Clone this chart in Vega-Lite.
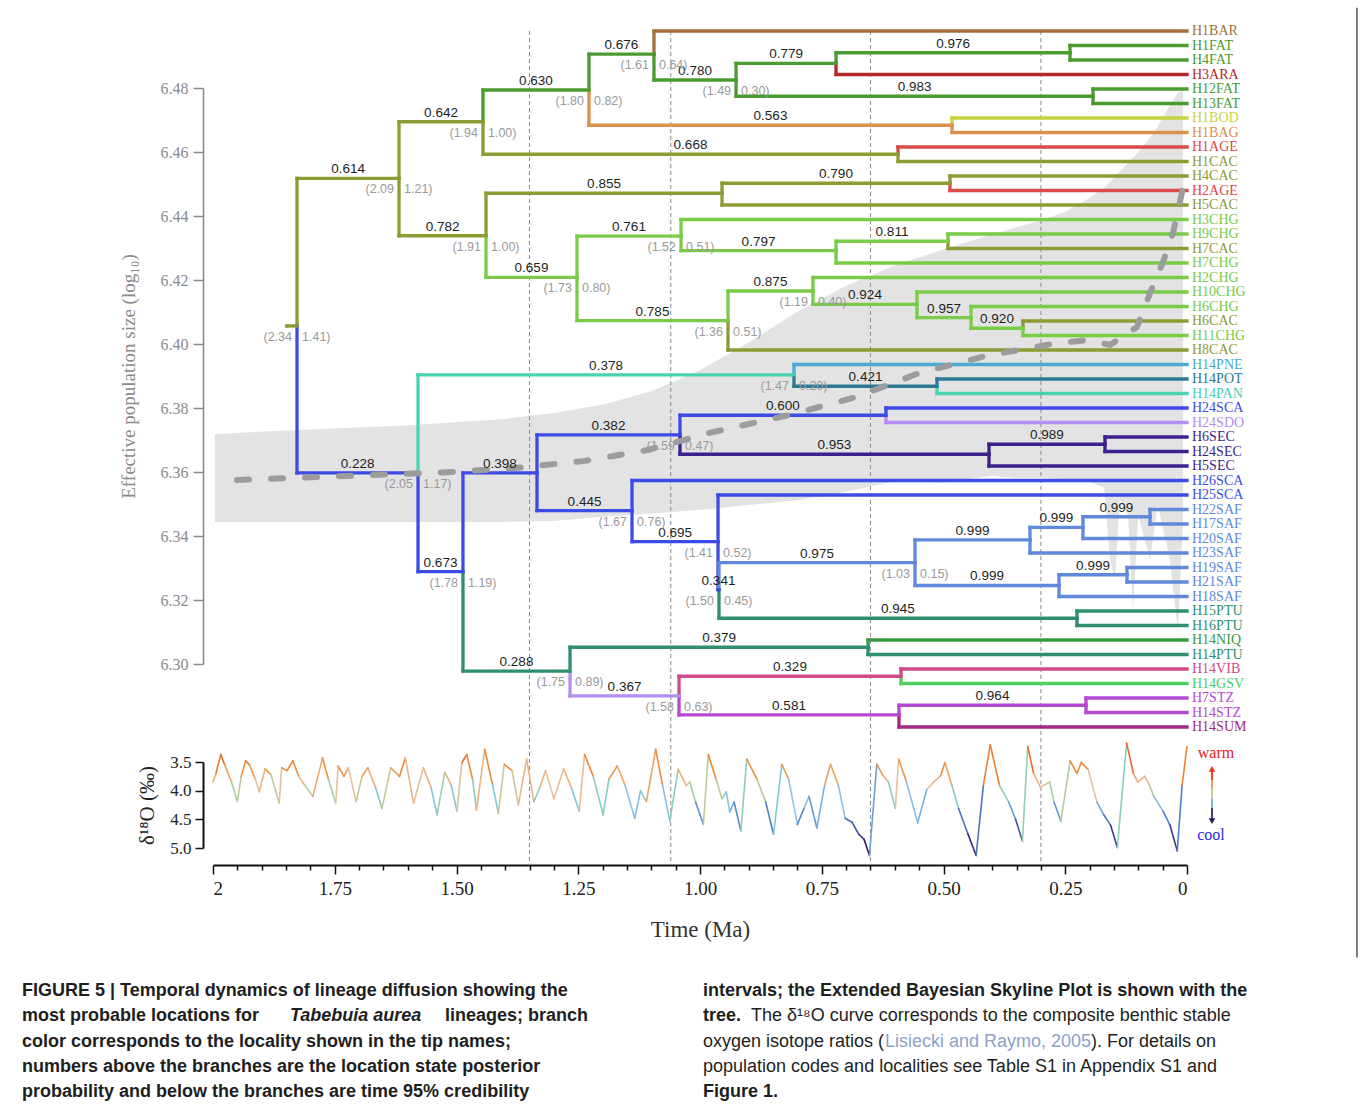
{
"$schema":"https://vega.github.io/schema/vega-lite/v6.json",
"width":1362,"height":1105,"autosize":{"type":"none"},"padding":0,"background":"white",
"config":{"view":{"stroke":null},"axis":{"grid":false}},
"datasets":{
"sky":[
{"t":1.996,"hi":6.3719,"lo":6.3444},{"t":1.8,"hi":6.3733,"lo":6.3444},{"t":1.6,"hi":6.3746,"lo":6.3444},{"t":1.4,"hi":6.3766,"lo":6.3444},{"t":1.3,"hi":6.3784,"lo":6.3447},{"t":1.2,"hi":6.381,"lo":6.346},{"t":1.1,"hi":6.3852,"lo":6.347},{"t":1.0,"hi":6.3918,"lo":6.3481},{"t":0.9,"hi":6.4005,"lo":6.3497},{"t":0.8,"hi":6.4101,"lo":6.3512},{"t":0.7,"hi":6.4182,"lo":6.3538},{"t":0.6,"hi":6.4245,"lo":6.3571},{"t":0.5,"hi":6.4296,"lo":6.3567},{"t":0.4,"hi":6.4343,"lo":6.3588},{"t":0.35,"hi":6.4365,"lo":6.3581},{"t":0.3,"hi":6.4386,"lo":6.3581},{"t":0.25,"hi":6.4413,"lo":6.3577},{"t":0.2,"hi":6.4456,"lo":6.3569},{"t":0.17,"hi":6.4488,"lo":6.3551},{"t":0.158,"hi":6.4507,"lo":6.3325},{"t":0.148,"hi":6.4523,"lo":6.3263},{"t":0.138,"hi":6.4539,"lo":6.3513},{"t":0.121,"hi":6.4566,"lo":6.3466},{"t":0.111,"hi":6.4582,"lo":6.3169},{"t":0.1,"hi":6.46,"lo":6.3466},{"t":0.076,"hi":6.4644,"lo":6.3325},{"t":0.06,"hi":6.468,"lo":6.3497},{"t":0.035,"hi":6.4745,"lo":6.3325},{"t":0.0185,"hi":6.4786,"lo":6.31},{"t":0.012,"hi":6.479,"lo":6.3325},{"t":0.008,"hi":6.4794,"lo":6.345}],
"median":[
{"t":1.9507,"m":6.3575},{"t":1.7187,"m":6.3588},{"t":1.5072,"m":6.36},{"t":1.3758,"m":6.3613},{"t":1.2402,"m":6.3634},{"t":1.1068,"m":6.3669},{"t":0.9815,"m":6.3722},{"t":0.8172,"m":6.3778},{"t":0.6797,"m":6.3834},{"t":0.5503,"m":6.3909},{"t":0.4127,"m":6.3963},{"t":0.2772,"m":6.4},{"t":0.2012,"m":6.4013},{"t":0.1581,"m":6.3997},{"t":0.1027,"m":6.4053},{"t":0.076,"m":6.4159},{"t":0.0493,"m":6.4256},{"t":0.0287,"m":6.4347},{"t":0.0082,"m":6.4488}],
"vlines":[{"t":1.35},{"t":1.06},{"t":0.65},{"t":0.30}],
"br":[
{"id":"root","pt":1.848,"pu":20.34,"t":1.8275,"u":20.34,"loc":"CAC"},
{"id":"A","pt":1.8275,"pu":20.34,"t":1.618,"u":10.16,"loc":"CAC","post":"0.614"},
{"id":"B","pt":1.8275,"pu":20.34,"t":1.579,"u":30.48,"loc":"SCA","post":"0.228"},
{"id":"A1","pt":1.618,"pu":10.16,"t":1.4456,"u":6.26,"loc":"CAC","post":"0.642"},
{"id":"A2","pt":1.618,"pu":10.16,"t":1.4394,"u":14.12,"loc":"CAC","post":"0.782"},
{"id":"A1a","pt":1.4456,"pu":6.26,"t":1.228,"u":4.07,"loc":"FAT","post":"0.630"},
{"id":"N668","pt":1.4456,"pu":6.26,"t":0.5934,"u":8.5,"loc":"CAC","post":"0.668"},
{"id":"A1a1","pt":1.228,"pu":4.07,"t":1.0945,"u":1.6,"loc":"FAT","post":"0.676"},
{"id":"N563","pt":1.228,"pu":4.07,"t":0.4825,"u":6.5,"loc":"BAG","post":"0.563"},
{"id":"H1BAR","pt":1.0945,"pu":1.6,"t":0,"u":0,"loc":"BAR"},
{"id":"A1a1b","pt":1.0945,"pu":1.6,"t":0.926,"u":3.38,"loc":"FAT","post":"0.780"},
{"id":"N779","pt":0.926,"pu":3.38,"t":0.7207,"u":2.23,"loc":"FAT","post":"0.779"},
{"id":"N983","pt":0.926,"pu":3.38,"t":0.193,"u":4.5,"loc":"FAT","post":"0.983"},
{"id":"N976","pt":0.7207,"pu":2.23,"t":0.2402,"u":1.5,"loc":"FAT","post":"0.976"},
{"id":"H3ARA","pt":0.7207,"pu":2.23,"t":0,"u":3,"loc":"ARA"},
{"id":"H1FAT","pt":0.2402,"pu":1.5,"t":0,"u":1,"loc":"FAT"},
{"id":"H4FAT","pt":0.2402,"pu":1.5,"t":0,"u":2,"loc":"FAT"},
{"id":"H12FAT","pt":0.193,"pu":4.5,"t":0,"u":4,"loc":"FAT"},
{"id":"H13FAT","pt":0.193,"pu":4.5,"t":0,"u":5,"loc":"FAT"},
{"id":"H1BOD","pt":0.4825,"pu":6.5,"t":0,"u":6,"loc":"BOD"},
{"id":"H1BAG","pt":0.4825,"pu":6.5,"t":0,"u":7,"loc":"BAG"},
{"id":"H1AGE","pt":0.5934,"pu":8.5,"t":0,"u":8,"loc":"AGE"},
{"id":"H1CAC","pt":0.5934,"pu":8.5,"t":0,"u":9,"loc":"CAC"},
{"id":"N855","pt":1.4394,"pu":14.12,"t":0.9548,"u":11.19,"loc":"CAC","post":"0.855"},
{"id":"N659","pt":1.4394,"pu":14.12,"t":1.2526,"u":16.99,"loc":"CHG","post":"0.659"},
{"id":"N790","pt":0.9548,"pu":11.19,"t":0.4867,"u":10.5,"loc":"CAC","post":"0.790"},
{"id":"H5CAC","pt":0.9548,"pu":11.19,"t":0,"u":12,"loc":"CAC"},
{"id":"H4CAC","pt":0.4867,"pu":10.5,"t":0,"u":10,"loc":"CAC"},
{"id":"H2AGE","pt":0.4867,"pu":10.5,"t":0,"u":11,"loc":"AGE"},
{"id":"N761","pt":1.2526,"pu":16.99,"t":1.039,"u":14.14,"loc":"CHG","post":"0.761"},
{"id":"N785","pt":1.2526,"pu":16.99,"t":0.9425,"u":19.97,"loc":"CHG","post":"0.785"},
{"id":"H3CHG","pt":1.039,"pu":14.14,"t":0,"u":13,"loc":"CHG"},
{"id":"N797","pt":1.039,"pu":14.14,"t":0.7207,"u":15.15,"loc":"CHG","post":"0.797"},
{"id":"N811","pt":0.7207,"pu":15.15,"t":0.4908,"u":14.5,"loc":"CHG","post":"0.811"},
{"id":"H7CHG","pt":0.7207,"pu":15.15,"t":0,"u":16,"loc":"CHG"},
{"id":"H9CHG","pt":0.4908,"pu":14.5,"t":0,"u":14,"loc":"CHG"},
{"id":"H7CAC","pt":0.4908,"pu":14.5,"t":0,"u":15,"loc":"CAC"},
{"id":"N875","pt":0.9425,"pu":19.97,"t":0.768,"u":17.93,"loc":"CHG","post":"0.875"},
{"id":"H8CAC","pt":0.9425,"pu":19.97,"t":0,"u":22,"loc":"CAC"},
{"id":"H2CHG","pt":0.768,"pu":17.93,"t":0,"u":17,"loc":"CHG"},
{"id":"N924","pt":0.768,"pu":17.93,"t":0.5544,"u":18.85,"loc":"CHG","post":"0.924"},
{"id":"H10CHG","pt":0.5544,"pu":18.85,"t":0,"u":18,"loc":"CHG"},
{"id":"N957","pt":0.5544,"pu":18.85,"t":0.4435,"u":19.77,"loc":"CHG","post":"0.957"},
{"id":"H6CHG","pt":0.4435,"pu":19.77,"t":0,"u":19,"loc":"CHG"},
{"id":"N920","pt":0.4435,"pu":19.77,"t":0.3368,"u":20.5,"loc":"CHG","post":"0.920"},
{"id":"H6CAC","pt":0.3368,"pu":20.5,"t":0,"u":20,"loc":"CAC"},
{"id":"H11CHG","pt":0.3368,"pu":20.5,"t":0,"u":21,"loc":"CHG"},
{"id":"N378","pt":1.579,"pu":30.48,"t":0.807,"u":23.72,"loc":"PAN","post":"0.378"},
{"id":"N673","pt":1.579,"pu":30.48,"t":1.4867,"u":37.29,"loc":"SCA","post":"0.673"},
{"id":"H14PNE","pt":0.807,"pu":23.72,"t":0,"u":23,"loc":"PNE"},
{"id":"N421","pt":0.807,"pu":23.72,"t":0.5133,"u":24.5,"loc":"POT","post":"0.421"},
{"id":"H14POT","pt":0.5133,"pu":24.5,"t":0,"u":24,"loc":"POT"},
{"id":"H14PAN","pt":0.5133,"pu":24.5,"t":0,"u":25,"loc":"PAN"},
{"id":"N398","pt":1.4867,"pu":37.29,"t":1.3347,"u":30.48,"loc":"SCA","post":"0.398"},
{"id":"N288","pt":1.4867,"pu":37.29,"t":1.2669,"u":44.14,"loc":"PTU","post":"0.288"},
{"id":"N382","pt":1.3347,"pu":30.48,"t":1.0411,"u":27.86,"loc":"SCA","post":"0.382"},
{"id":"N445","pt":1.3347,"pu":30.48,"t":1.1396,"u":33.08,"loc":"SCA","post":"0.445"},
{"id":"N600","pt":1.0411,"pu":27.86,"t":0.6181,"u":26.5,"loc":"SCA","post":"0.600"},
{"id":"N953","pt":1.0411,"pu":27.86,"t":0.4066,"u":29.19,"loc":"SEC","post":"0.953"},
{"id":"H24SCA","pt":0.6181,"pu":26.5,"t":0,"u":26,"loc":"SCA"},
{"id":"H24SDO","pt":0.6181,"pu":26.5,"t":0,"u":27,"loc":"SDO"},
{"id":"N989","pt":0.4066,"pu":29.19,"t":0.1684,"u":28.5,"loc":"SEC","post":"0.989"},
{"id":"H5SEC","pt":0.4066,"pu":29.19,"t":0,"u":30,"loc":"SEC"},
{"id":"H6SEC","pt":0.1684,"pu":28.5,"t":0,"u":28,"loc":"SEC"},
{"id":"H24SEC","pt":0.1684,"pu":28.5,"t":0,"u":29,"loc":"SEC"},
{"id":"H26SCA","pt":1.1396,"pu":33.08,"t":0,"u":31,"loc":"SCA"},
{"id":"N695","pt":1.1396,"pu":33.08,"t":0.963,"u":35.22,"loc":"SCA","post":"0.695"},
{"id":"H25SCA","pt":0.963,"pu":35.22,"t":0,"u":32,"loc":"SCA"},
{"id":"N341","pt":0.963,"pu":35.22,"t":0.961,"u":38.53,"loc":"SCA","post":"0.341"},
{"id":"N975","pt":0.961,"pu":38.53,"t":0.5585,"u":36.67,"loc":"SAF","post":"0.975"},
{"id":"N945","pt":0.961,"pu":38.53,"t":0.2259,"u":40.5,"loc":"PTU","post":"0.945"},
{"id":"N999a","pt":0.5585,"pu":36.67,"t":0.3224,"u":35.1,"loc":"SAF","post":"0.999"},
{"id":"N999d","pt":0.5585,"pu":36.67,"t":0.2628,"u":38.24,"loc":"SAF","post":"0.999"},
{"id":"N999b","pt":0.3224,"pu":35.1,"t":0.2136,"u":34.23,"loc":"SAF","post":"0.999"},
{"id":"H23SAF","pt":0.3224,"pu":35.1,"t":0,"u":36,"loc":"SAF"},
{"id":"N999c","pt":0.2136,"pu":34.23,"t":0.076,"u":33.5,"loc":"SAF","post":"0.999"},
{"id":"H20SAF","pt":0.2136,"pu":34.23,"t":0,"u":35,"loc":"SAF"},
{"id":"H22SAF","pt":0.076,"pu":33.5,"t":0,"u":33,"loc":"SAF"},
{"id":"H17SAF","pt":0.076,"pu":33.5,"t":0,"u":34,"loc":"SAF"},
{"id":"N999e","pt":0.2628,"pu":38.24,"t":0.1232,"u":37.5,"loc":"SAF","post":"0.999"},
{"id":"H18SAF","pt":0.2628,"pu":38.24,"t":0,"u":39,"loc":"SAF"},
{"id":"H19SAF","pt":0.1232,"pu":37.5,"t":0,"u":37,"loc":"SAF"},
{"id":"H21SAF","pt":0.1232,"pu":37.5,"t":0,"u":38,"loc":"SAF"},
{"id":"H15PTU","pt":0.2259,"pu":40.5,"t":0,"u":40,"loc":"PTU"},
{"id":"H16PTU","pt":0.2259,"pu":40.5,"t":0,"u":41,"loc":"PTU"},
{"id":"N379","pt":1.2669,"pu":44.14,"t":0.655,"u":42.5,"loc":"PTU","post":"0.379"},
{"id":"N367","pt":1.2669,"pu":44.14,"t":1.0431,"u":45.86,"loc":"SDO","post":"0.367"},
{"id":"H14NIQ","pt":0.655,"pu":42.5,"t":0,"u":42,"loc":"NIQ"},
{"id":"H14PTU","pt":0.655,"pu":42.5,"t":0,"u":43,"loc":"PTU"},
{"id":"N329","pt":1.0431,"pu":45.86,"t":0.5873,"u":44.5,"loc":"VIB","post":"0.329"},
{"id":"N581","pt":1.0431,"pu":45.86,"t":0.5914,"u":47.17,"loc":"STZ","post":"0.581"},
{"id":"H14VIB","pt":0.5873,"pu":44.5,"t":0,"u":44,"loc":"VIB"},
{"id":"H14GSV","pt":0.5873,"pu":44.5,"t":0,"u":45,"loc":"GSV"},
{"id":"N964","pt":0.5914,"pu":47.17,"t":0.2074,"u":46.5,"loc":"STZ","post":"0.964"},
{"id":"H14SUM","pt":0.5914,"pu":47.17,"t":0,"u":48,"loc":"SUM"},
{"id":"H7STZ","pt":0.2074,"pu":46.5,"t":0,"u":46,"loc":"STZ"},
{"id":"H14STZ","pt":0.2074,"pu":46.5,"t":0,"u":47,"loc":"STZ"}],
"hpd":[
{"t":1.8275,"u":20.34,"lo":"(2.34","hi":"1.41)"},
{"t":1.618,"u":10.16,"lo":"(2.09","hi":"1.21)"},
{"t":1.579,"u":30.48,"lo":"(2.05","hi":"1.17)"},
{"t":1.4456,"u":6.26,"lo":"(1.94","hi":"1.00)"},
{"t":1.4394,"u":14.12,"lo":"(1.91","hi":"1.00)"},
{"t":1.228,"u":4.07,"lo":"(1.80","hi":"0.82)"},
{"t":1.0945,"u":1.6,"lo":"(1.61","hi":"0.64)"},
{"t":0.926,"u":3.38,"lo":"(1.49","hi":"0.30)"},
{"t":1.2526,"u":16.99,"lo":"(1.73","hi":"0.80)"},
{"t":1.039,"u":14.14,"lo":"(1.52","hi":"0.51)"},
{"t":0.9425,"u":19.97,"lo":"(1.36","hi":"0.51)"},
{"t":0.768,"u":17.93,"lo":"(1.19","hi":"0.40)"},
{"t":0.807,"u":23.72,"lo":"(1.47","hi":"0.20)"},
{"t":1.4867,"u":37.29,"lo":"(1.78","hi":"1.19)"},
{"t":1.0411,"u":27.86,"lo":"(1.59","hi":"0.47)"},
{"t":1.1396,"u":33.08,"lo":"(1.67","hi":"0.76)"},
{"t":0.963,"u":35.22,"lo":"(1.41","hi":"0.52)"},
{"t":0.961,"u":38.53,"lo":"(1.50","hi":"0.45)"},
{"t":0.5585,"u":36.67,"lo":"(1.03","hi":"0.15)"},
{"t":1.2669,"u":44.14,"lo":"(1.75","hi":"0.89)"},
{"t":1.0431,"u":45.86,"lo":"(1.58","hi":"0.63)"}],
"d18o":[
{"t":2.0,"d":3.85},{"t":1.994,"d":3.7},{"t":1.984,"d":3.37},{"t":1.976,"d":3.55},{"t":1.962,"d":3.85},{"t":1.95,"d":4.19},{"t":1.942,"d":3.75},{"t":1.933,"d":3.48},{"t":1.925,"d":3.55},{"t":1.913,"d":3.8},{"t":1.905,"d":4.02},{"t":1.893,"d":3.62},{"t":1.881,"d":3.72},{"t":1.864,"d":4.22},{"t":1.859,"d":3.6},{"t":1.848,"d":3.65},{"t":1.836,"d":3.48},{"t":1.824,"d":3.75},{"t":1.812,"d":3.9},{"t":1.795,"d":4.1},{"t":1.775,"d":3.43},{"t":1.763,"d":3.8},{"t":1.748,"d":4.22},{"t":1.743,"d":3.57},{"t":1.731,"d":3.75},{"t":1.722,"d":3.6},{"t":1.706,"d":4.19},{"t":1.694,"d":3.75},{"t":1.682,"d":3.6},{"t":1.666,"d":3.95},{"t":1.653,"d":4.31},{"t":1.635,"d":3.6},{"t":1.617,"d":3.75},{"t":1.605,"d":3.43},{"t":1.588,"d":4.22},{"t":1.568,"d":3.6},{"t":1.552,"d":3.95},{"t":1.54,"d":4.42},{"t":1.524,"d":3.68},{"t":1.511,"d":3.9},{"t":1.499,"d":4.36},{"t":1.489,"d":3.51},{"t":1.479,"d":3.37},{"t":1.467,"d":3.8},{"t":1.459,"d":4.34},{"t":1.442,"d":3.28},{"t":1.426,"d":3.9},{"t":1.414,"d":4.39},{"t":1.402,"d":3.54},{"t":1.386,"d":3.65},{"t":1.373,"d":4.25},{"t":1.356,"d":3.45},{"t":1.341,"d":4.19},{"t":1.329,"d":3.95},{"t":1.317,"d":3.65},{"t":1.3,"d":4.14},{"t":1.28,"d":3.62},{"t":1.264,"d":3.95},{"t":1.248,"d":4.36},{"t":1.237,"d":3.37},{"t":1.219,"d":3.75},{"t":1.199,"d":4.42},{"t":1.187,"d":3.8},{"t":1.17,"d":3.57},{"t":1.154,"d":3.9},{"t":1.134,"d":4.48},{"t":1.122,"d":4.0},{"t":1.11,"d":4.19},{"t":1.091,"d":3.28},{"t":1.077,"d":3.9},{"t":1.062,"d":4.53},{"t":1.045,"d":3.63},{"t":1.028,"d":3.91},{"t":1.021,"d":3.85},{"t":1.009,"d":4.2},{"t":0.993,"d":4.59},{"t":0.983,"d":3.37},{"t":0.967,"d":3.8},{"t":0.955,"d":4.14},{"t":0.946,"d":4.02},{"t":0.939,"d":4.37},{"t":0.93,"d":4.2},{"t":0.916,"d":4.7},{"t":0.904,"d":3.45},{"t":0.883,"d":3.8},{"t":0.865,"d":4.2},{"t":0.849,"d":4.76},{"t":0.832,"d":3.54},{"t":0.818,"d":3.8},{"t":0.8,"d":4.59},{"t":0.786,"d":4.3},{"t":0.776,"d":4.1},{"t":0.76,"d":4.65},{"t":0.744,"d":3.9},{"t":0.732,"d":3.54},{"t":0.716,"d":3.9},{"t":0.702,"d":4.48},{"t":0.688,"d":4.55},{"t":0.674,"d":4.76},{"t":0.663,"d":4.85},{"t":0.652,"d":5.13},{"t":0.637,"d":3.54},{"t":0.623,"d":3.75},{"t":0.613,"d":3.85},{"t":0.599,"d":4.31},{"t":0.592,"d":3.45},{"t":0.576,"d":3.85},{"t":0.553,"d":4.56},{"t":0.534,"d":3.97},{"t":0.52,"d":3.85},{"t":0.506,"d":3.74},{"t":0.497,"d":3.51},{"t":0.483,"d":3.9},{"t":0.469,"d":4.31},{"t":0.45,"d":4.75},{"t":0.433,"d":5.13},{"t":0.418,"d":3.9},{"t":0.404,"d":3.2},{"t":0.385,"d":3.91},{"t":0.366,"d":4.2},{"t":0.352,"d":4.5},{"t":0.338,"d":4.88},{"t":0.327,"d":3.23},{"t":0.315,"d":3.7},{"t":0.301,"d":3.94},{"t":0.282,"d":3.85},{"t":0.273,"d":4.2},{"t":0.259,"d":4.53},{"t":0.24,"d":3.48},{"t":0.226,"d":3.7},{"t":0.217,"d":3.51},{"t":0.203,"d":3.63},{"t":0.185,"d":4.2},{"t":0.171,"d":4.42},{"t":0.157,"d":4.6},{"t":0.143,"d":4.99},{"t":0.124,"d":3.17},{"t":0.11,"d":3.7},{"t":0.101,"d":3.85},{"t":0.087,"d":3.75},{"t":0.077,"d":3.9},{"t":0.068,"d":4.1},{"t":0.049,"d":4.36},{"t":0.035,"d":4.6},{"t":0.02,"d":5.05},{"t":0.01,"d":3.9},{"t":0.0,"d":3.23}],
"arrow":[{"v":3.64,"v2":3.82,"c":3.3},{"v":3.82,"v2":3.98,"c":3.7},{"v":3.98,"v2":4.14,"c":3.95},{"v":4.14,"v2":4.3,"c":4.25},{"v":4.3,"v2":4.5,"c":4.8}],
"heads":[{"v":3.62,"dir":"up","c":3.25},{"v":4.53,"dir":"down","c":5.0}],
"wc":[{"label":"warm","t":-0.0595,"v":3.343},{"label":"cool","t":-0.0493,"v":4.774}],
"cap":[
{"col":0,"line":0,"seg":"b","text":"FIGURE 5 | Temporal dynamics of lineage diffusion showing the"},
{"col":0,"line":1,"seg":"b","text":"most probable locations for"},
{"col":0,"line":1,"seg":"it","text":"Tabebuia aurea"},
{"col":0,"line":1,"seg":"b2","text":"lineages; branch"},
{"col":0,"line":2,"seg":"b","text":"color corresponds to the locality shown in the tip names;"},
{"col":0,"line":3,"seg":"b","text":"numbers above the branches are the location state posterior"},
{"col":0,"line":4,"seg":"b","text":"probability and below the branches are time 95% credibility"},
{"col":1,"line":0,"seg":"b","text":"intervals; the Extended Bayesian Skyline Plot is shown with the"},
{"col":1,"line":1,"seg":"b","text":"tree."},
{"col":1,"line":1,"seg":"n2","text":"The δ¹⁸O curve corresponds to the composite benthic stable"},
{"col":1,"line":2,"seg":"n","text":"oxygen isotope ratios ("},
{"col":1,"line":2,"seg":"lk","text":"Lisiecki and Raymo, 2005"},
{"col":1,"line":2,"seg":"n3","text":"). For details on"},
{"col":1,"line":3,"seg":"n","text":"population codes and localities see Table S1 in Appendix S1 and"},
{"col":1,"line":4,"seg":"b","text":"Figure 1."}]
},
"resolve":{"scale":{"x":"independent","y":"independent","color":"independent","shape":"independent"},"axis":{"x":"independent","y":"independent"}},
"layer":[
{"data":{"name":"sky"},"mark":{"type":"area","color":"#e3e3e3"},
 "encoding":{"x":{"field":"t","type":"quantitative","scale":{"domain":[0,2],"range":[1187,213],"nice":false,"zero":false},"axis":null},
  "y":{"field":"hi","type":"quantitative","scale":{"domain":[6.3,6.48],"range":[664,88],"nice":false,"zero":false},
   "axis":{"orient":"left","offset":-203,"values":[6.3,6.32,6.34,6.36,6.38,6.4,6.42,6.44,6.46,6.48],"format":".2f","tickSize":10,"tickWidth":1.5,"tickColor":"#888","domainColor":"#888","domainWidth":1.5,"labelFont":"Liberation Serif","labelFontSize":16,"labelColor":"#8a8a8a","labelPadding":5,"title":"Effective population size (log₁₀)","titleFont":"Liberation Serif","titleFontSize":19,"titleFontWeight":"normal","titleColor":"#8a8a8a","titlePadding":22}},
  "y2":{"field":"lo"}}},
{"data":{"values":[{"edge":"right"}]},"mark":{"type":"rule","color":"#555","strokeWidth":1.5},
 "encoding":{"x":{"datum":-0.349,"type":"quantitative","scale":{"domain":[0,2],"range":[1187,213],"nice":false,"zero":false},"axis":null},
  "y":{"datum":-1.6,"type":"quantitative","scale":{"domain":[0,48],"range":[31,727],"nice":false,"zero":false},"axis":null},
  "y2":{"datum":63.9}}},
{"data":{"name":"vlines"},"mark":{"type":"rule","color":"#8a8a8a","strokeWidth":1,"strokeDash":[4,3]},
 "encoding":{"x":{"field":"t","type":"quantitative","scale":{"domain":[0,2],"range":[1187,213],"nice":false,"zero":false},"axis":null},
  "y":{"datum":0,"type":"quantitative","scale":{"domain":[0,48],"range":[31,727],"nice":false,"zero":false},"axis":null},
  "y2":{"datum":57.5}}},
{"data":{"name":"br"},"mark":{"type":"rule","strokeWidth":3.3,"strokeCap":"square"},
 "encoding":{"x":{"field":"pt","type":"quantitative","scale":{"domain":[0,2],"range":[1187,213],"nice":false,"zero":false},"axis":null},
  "y":{"field":"pu","type":"quantitative","scale":{"domain":[0,48],"range":[31,727],"nice":false,"zero":false},"axis":null},
  "y2":{"field":"u"},
  "color":{"field":"loc","type":"nominal","legend":null,"scale":{"domain":["BAR","FAT","ARA","BOD","BAG","AGE","CAC","CHG","PNE","POT","PAN","SCA","SDO","SEC","SAF","PTU","NIQ","VIB","GSV","STZ","SUM"],"range":["#a3703d","#4b9b30","#b2282c","#c9d23f","#d9914b","#d94a4a","#8e9a33","#7acb47","#4ba9d3","#2d7892","#4ad1b0","#3c4ae6","#b58df0","#3d1f8d","#6089dc","#2d8f6f","#3a9845","#d14a8b","#4fcf5f","#b44ad2","#a3287f"]}}}},
{"data":{"name":"br"},"mark":{"type":"rule","strokeWidth":3.3,"strokeCap":"square"},
 "encoding":{"x":{"field":"pt","type":"quantitative","scale":{"domain":[0,2],"range":[1187,213],"nice":false,"zero":false},"axis":null},
  "x2":{"field":"t"},
  "y":{"field":"u","type":"quantitative","scale":{"domain":[0,48],"range":[31,727],"nice":false,"zero":false},"axis":null},
  "color":{"field":"loc","type":"nominal","legend":null,"scale":{"domain":["BAR","FAT","ARA","BOD","BAG","AGE","CAC","CHG","PNE","POT","PAN","SCA","SDO","SEC","SAF","PTU","NIQ","VIB","GSV","STZ","SUM"],"range":["#a3703d","#4b9b30","#b2282c","#c9d23f","#d9914b","#d94a4a","#8e9a33","#7acb47","#4ba9d3","#2d7892","#4ad1b0","#3c4ae6","#b58df0","#3d1f8d","#6089dc","#2d8f6f","#3a9845","#d14a8b","#4fcf5f","#b44ad2","#a3287f"]}}}},
{"data":{"name":"median"},"mark":{"type":"line","color":"#9c9c9c","strokeWidth":6,"strokeDash":[12,22],"strokeCap":"round"},
 "encoding":{"x":{"field":"t","type":"quantitative","scale":{"domain":[0,2],"range":[1187,213],"nice":false,"zero":false},
   "axis":{"orient":"bottom","offset":-240,"values":[0.05,0.1,0.15,0.2,0.3,0.35,0.4,0.45,0.55,0.6,0.65,0.7,0.8,0.85,0.9,0.95,1.05,1.1,1.15,1.2,1.3,1.35,1.4,1.45,1.55,1.6,1.65,1.7,1.8,1.85,1.9,1.95],"labels":false,"domain":false,"tickSize":5,"tickWidth":1.5,"tickColor":"#111","title":null}},
  "y":{"field":"m","type":"quantitative","scale":{"domain":[6.3,6.48],"range":[664,88],"nice":false,"zero":false},"axis":null}}},
{"data":{"name":"br"},"transform":[{"filter":"datum.t == 0"}],"mark":{"type":"text","align":"left","baseline":"middle","dx":5,"font":"Liberation Serif","fontSize":14},
 "encoding":{"x":{"field":"t","type":"quantitative","scale":{"domain":[0,2],"range":[1187,213],"nice":false,"zero":false},"axis":null},
  "y":{"field":"u","type":"quantitative","scale":{"domain":[0,48],"range":[31,727],"nice":false,"zero":false},"axis":null},
  "text":{"field":"id"},
  "color":{"field":"loc","type":"nominal","legend":null,"scale":{"domain":["BAR","FAT","ARA","BOD","BAG","AGE","CAC","CHG","PNE","POT","PAN","SCA","SDO","SEC","SAF","PTU","NIQ","VIB","GSV","STZ","SUM"],"range":["#a3703d","#4b9b30","#b2282c","#c9d23f","#d9914b","#d94a4a","#8e9a33","#7acb47","#4ba9d3","#2d7892","#4ad1b0","#3c4ae6","#b58df0","#3d1f8d","#6089dc","#2d8f6f","#3a9845","#d14a8b","#4fcf5f","#b44ad2","#a3287f"]}}}},
{"data":{"name":"br"},"transform":[{"filter":"isValid(datum.post)"},{"calculate":"(datum.pt + datum.t) / 2","as":"mid"}],"mark":{"type":"text","align":"center","baseline":"middle","dy":-9,"font":"Liberation Sans","fontSize":13.5,"color":"#1e1e1e"},
 "encoding":{"x":{"field":"mid","type":"quantitative","scale":{"domain":[0,2],"range":[1187,213],"nice":false,"zero":false},"axis":null},
  "y":{"field":"u","type":"quantitative","scale":{"domain":[0,48],"range":[31,727],"nice":false,"zero":false},"axis":null},
  "text":{"field":"post"}}},
{"data":{"name":"hpd"},"mark":{"type":"text","align":"right","baseline":"middle","dx":-5,"dy":11,"font":"Liberation Sans","fontSize":12.5,"color":"#9a9a9a"},
 "encoding":{"x":{"field":"t","type":"quantitative","scale":{"domain":[0,2],"range":[1187,213],"nice":false,"zero":false},"axis":null},
  "y":{"field":"u","type":"quantitative","scale":{"domain":[0,48],"range":[31,727],"nice":false,"zero":false},"axis":null},
  "text":{"field":"lo"}}},
{"data":{"name":"hpd"},"mark":{"type":"text","align":"left","baseline":"middle","dx":5,"dy":11,"font":"Liberation Sans","fontSize":12.5,"color":"#9a9a9a"},
 "encoding":{"x":{"field":"t","type":"quantitative","scale":{"domain":[0,2],"range":[1187,213],"nice":false,"zero":false},"axis":null},
  "y":{"field":"u","type":"quantitative","scale":{"domain":[0,48],"range":[31,727],"nice":false,"zero":false},"axis":null},
  "text":{"field":"hi"}}},
{"data":{"name":"d18o"},"transform":[{"window":[{"op":"lead","field":"t","as":"t2"},{"op":"lead","field":"d","as":"d2"}],"sort":[{"field":"t","order":"descending"}]},{"filter":"isValid(datum.t2)"},{"calculate":"(datum.d + datum.d2) / 2","as":"c"}],
 "mark":{"type":"rule","strokeWidth":1.6,"strokeCap":"round"},
 "encoding":{"x":{"field":"t","type":"quantitative","scale":{"domain":[0,2],"range":[1187,213],"nice":false,"zero":false},
   "axis":{"orient":"bottom","offset":-240,"values":[0,0.25,0.5,0.75,1,1.25,1.5,1.75,2],"labelExpr":"datum.value == 0 ? '0' : datum.value == 2 ? '2' : format(datum.value, '.2f')","tickSize":9,"tickWidth":1.5,"tickColor":"#111","domainColor":"#111","domainWidth":2,"labelFont":"Liberation Serif","labelFontSize":19,"labelColor":"#222","labelPadding":5,"labelOverlap":false,"title":"Time (Ma)","titleFont":"Liberation Serif","titleFontSize":23,"titleFontWeight":"normal","titleColor":"#333","titlePadding":20}},
  "x2":{"field":"t2"},
  "y":{"field":"d","type":"quantitative","scale":{"domain":[3.5,5.0],"range":[762,848],"nice":false,"zero":false},
   "axis":{"orient":"left","offset":-203,"values":[3.5,4,4.5,5],"format":".1f","tickSize":8,"tickWidth":1.5,"tickColor":"#111","domainColor":"#111","domainWidth":2,"labelFont":"Liberation Serif","labelFontSize":17,"labelColor":"#222","labelPadding":4,"title":"δ¹⁸O (‰)","titleFont":"Liberation Serif","titleFontSize":21,"titleFontWeight":"normal","titleColor":"#222","titlePadding":12}},
  "y2":{"field":"d2"},
  "color":{"field":"c","type":"quantitative","legend":null,"scale":{"domain":[3.2,3.6,3.9,4.2,4.6,5.0],"range":["#e0241e","#ef8a3a","#e6c2a0","#8cc2e6","#4a5fb6","#2a1a6e"]}}}},
{"data":{"name":"arrow"},"mark":{"type":"rule","strokeWidth":2},
 "encoding":{"x":{"datum":-0.0513,"type":"quantitative","scale":{"domain":[0,2],"range":[1187,213],"nice":false,"zero":false},"axis":null},
  "y":{"field":"v","type":"quantitative","scale":{"domain":[3.5,5.0],"range":[762,848],"nice":false,"zero":false},"axis":null},
  "y2":{"field":"v2"},
  "color":{"field":"c","type":"quantitative","legend":null,"scale":{"domain":[3.2,3.6,3.9,4.2,4.6,5.0],"range":["#e0241e","#ef8a3a","#e6c2a0","#8cc2e6","#4a5fb6","#2a1a6e"]}}}},
{"data":{"name":"heads"},"mark":{"type":"point","filled":true,"size":45,"opacity":1},
 "encoding":{"x":{"datum":-0.0513,"type":"quantitative","scale":{"domain":[0,2],"range":[1187,213],"nice":false,"zero":false},"axis":null},
  "y":{"field":"v","type":"quantitative","scale":{"domain":[3.5,5.0],"range":[762,848],"nice":false,"zero":false},"axis":null},
  "shape":{"field":"dir","type":"nominal","legend":null,"scale":{"domain":["up","down"],"range":["triangle-up","triangle-down"]}},
  "color":{"field":"c","type":"quantitative","legend":null,"scale":{"domain":[3.2,3.6,3.9,4.2,4.6,5.0],"range":["#e0241e","#ef8a3a","#e6c2a0","#8cc2e6","#4a5fb6","#2a1a6e"]}}}},
{"data":{"name":"wc"},"mark":{"type":"text","align":"center","baseline":"middle","font":"Liberation Serif","fontSize":16},
 "encoding":{"x":{"field":"t","type":"quantitative","scale":{"domain":[0,2],"range":[1187,213],"nice":false,"zero":false},"axis":null},
  "y":{"field":"v","type":"quantitative","scale":{"domain":[3.5,5.0],"range":[762,848],"nice":false,"zero":false},"axis":null},
  "text":{"field":"label"},
  "color":{"field":"label","type":"nominal","legend":null,"scale":{"domain":["warm","cool"],"range":["#e8202a","#2a2ae8"]}}}},
{"data":{"name":"cap"},"transform":[{"filter":"datum.seg == 'b'"}],"mark":{"type":"text","align":"left","baseline":"middle","font":"Liberation Sans","fontSize":18,"fontWeight":"bold","color":"#1e1e1e"},
 "encoding":{"x":{"field":"col","type":"quantitative","scale":{"domain":[0,1],"range":[22,703]},"axis":null},
  "y":{"field":"line","type":"quantitative","scale":{"domain":[0,4],"range":[991,1092]},"axis":null},
  "text":{"field":"text"}}},
{"data":{"name":"cap"},"transform":[{"filter":"datum.seg == 'n'"}],"mark":{"type":"text","align":"left","baseline":"middle","font":"Liberation Sans","fontSize":18,"color":"#1e1e1e"},
 "encoding":{"x":{"field":"col","type":"quantitative","scale":{"domain":[0,1],"range":[22,703]},"axis":null},
  "y":{"field":"line","type":"quantitative","scale":{"domain":[0,4],"range":[991,1092]},"axis":null},
  "text":{"field":"text"}}},
{"data":{"name":"cap"},"transform":[{"filter":"datum.seg == 'it'"}],"mark":{"type":"text","align":"left","baseline":"middle","dx":268,"font":"Liberation Sans","fontSize":18,"fontWeight":"bold","fontStyle":"italic","color":"#1e1e1e"},
 "encoding":{"x":{"field":"col","type":"quantitative","scale":{"domain":[0,1],"range":[22,703]},"axis":null},
  "y":{"field":"line","type":"quantitative","scale":{"domain":[0,4],"range":[991,1092]},"axis":null},
  "text":{"field":"text"}}},
{"data":{"name":"cap"},"transform":[{"filter":"datum.seg == 'b2'"}],"mark":{"type":"text","align":"left","baseline":"middle","dx":423,"font":"Liberation Sans","fontSize":18,"fontWeight":"bold","color":"#1e1e1e"},
 "encoding":{"x":{"field":"col","type":"quantitative","scale":{"domain":[0,1],"range":[22,703]},"axis":null},
  "y":{"field":"line","type":"quantitative","scale":{"domain":[0,4],"range":[991,1092]},"axis":null},
  "text":{"field":"text"}}},
{"data":{"name":"cap"},"transform":[{"filter":"datum.seg == 'n2'"}],"mark":{"type":"text","align":"left","baseline":"middle","dx":48,"font":"Liberation Sans","fontSize":18,"color":"#1e1e1e"},
 "encoding":{"x":{"field":"col","type":"quantitative","scale":{"domain":[0,1],"range":[22,703]},"axis":null},
  "y":{"field":"line","type":"quantitative","scale":{"domain":[0,4],"range":[991,1092]},"axis":null},
  "text":{"field":"text"}}},
{"data":{"name":"cap"},"transform":[{"filter":"datum.seg == 'lk'"}],"mark":{"type":"text","align":"left","baseline":"middle","dx":182,"font":"Liberation Sans","fontSize":18,"color":"#8ba3c7"},
 "encoding":{"x":{"field":"col","type":"quantitative","scale":{"domain":[0,1],"range":[22,703]},"axis":null},
  "y":{"field":"line","type":"quantitative","scale":{"domain":[0,4],"range":[991,1092]},"axis":null},
  "text":{"field":"text"}}},
{"data":{"name":"cap"},"transform":[{"filter":"datum.seg == 'n3'"}],"mark":{"type":"text","align":"left","baseline":"middle","dx":388,"font":"Liberation Sans","fontSize":18,"color":"#1e1e1e"},
 "encoding":{"x":{"field":"col","type":"quantitative","scale":{"domain":[0,1],"range":[22,703]},"axis":null},
  "y":{"field":"line","type":"quantitative","scale":{"domain":[0,4],"range":[991,1092]},"axis":null},
  "text":{"field":"text"}}}
]
}
